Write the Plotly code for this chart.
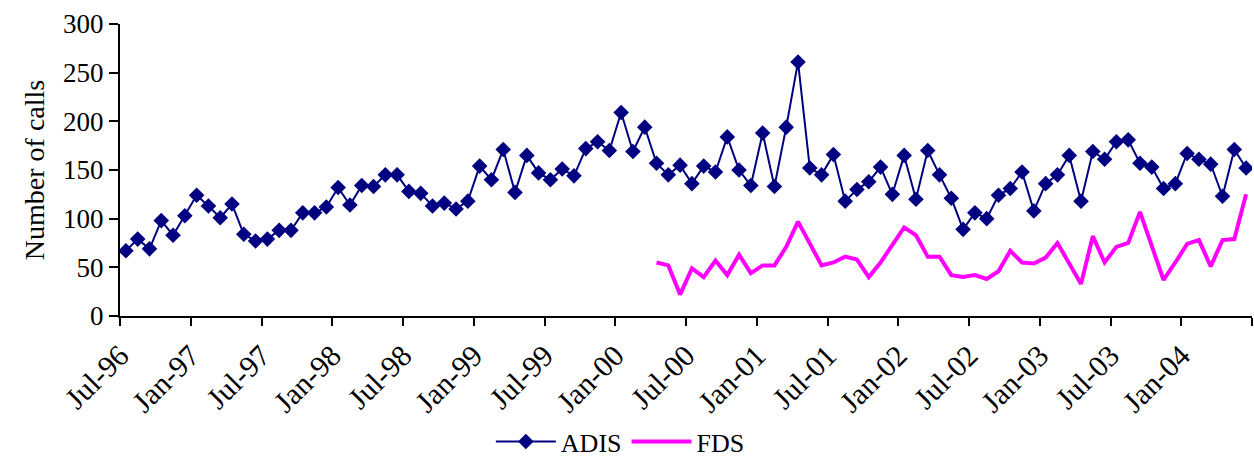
import plotly.graph_objects as go

# Monthly series, Jul-96 .. Jun-04 (96 months)
month_index = list(range(96))
adis = [67, 79, 69, 98, 83, 103, 124, 113, 101, 115, 84, 77,
        79, 88, 88, 106, 106, 112, 132, 114, 134, 133, 145, 145,
        128, 126, 113, 116, 110, 118, 154, 140, 171, 127, 165, 147,
        140, 151, 144, 172, 179, 170, 209, 169, 194, 157, 145, 155,
        136, 154, 148, 184, 150, 134, 188, 133, 194, 261, 152, 145,
        166, 118, 130, 138, 153, 125, 165, 120, 170, 145, 121, 89,
        106, 100, 124, 131, 148, 108, 136, 145, 165, 118, 169, 161,
        179, 181, 157, 153, 131, 136, 167, 161, 156, 123, 171, 152]

# FDS starts in Apr-00 (month index 45)
fds_index = list(range(45, 96))
fds = [55, 52, 22, 49, 40, 57, 42, 63, 44, 52,
       52, 71, 97, 75, 52, 55, 61, 58, 40, 55,
       73, 91, 83, 61, 61, 42, 40, 42, 38, 46,
       67, 55, 54, 60, 75, 54, 33, 82, 55, 71,
       75, 107, 72, 37, 55, 74, 78, 51, 78, 79, 125]

tick_labels = ["Jul-96", "Jan-97", "Jul-97", "Jan-98", "Jul-98", "Jan-99",
               "Jul-99", "Jan-00", "Jul-00", "Jan-01", "Jul-01", "Jan-02",
               "Jul-02", "Jan-03", "Jul-03", "Jan-04", ""]
tick_positions = [-0.5 + 6 * k for k in range(len(tick_labels))]

FONT = "Liberation Serif"

fig = go.Figure()
fig.add_trace(go.Scatter(
    x=month_index, y=adis, name="ADIS", mode="lines+markers",
    line=dict(color="#000080", width=2),
    marker=dict(symbol="diamond", size=12, color="#000080"),
))
fig.add_trace(go.Scatter(
    x=fds_index, y=fds, name="FDS", mode="lines",
    line=dict(color="#FF00FF", width=4),
))

fig.update_layout(
    width=1254, height=459,
    margin=dict(l=120, r=2, t=24, b=143, autoexpand=False),
    plot_bgcolor="white", paper_bgcolor="white",
    font=dict(family=FONT, size=27, color="black"),
    showlegend=True,
    legend=dict(orientation="h", x=0.442, xanchor="center", y=-0.43, yanchor="middle",
                font=dict(family=FONT, size=26), itemwidth=60, tracegroupgap=0),
)
fig.update_xaxes(
    range=[-0.5, 95.5], tickmode="array", tickvals=tick_positions, ticktext=tick_labels,
    tickangle=-45, ticks="outside", ticklen=8, tickwidth=2, tickcolor="black",
    showline=True, linecolor="black", linewidth=2, showgrid=False, zeroline=False,
    tickfont=dict(family=FONT, size=30), automargin=False,
)
fig.update_yaxes(
    range=[0, 300], tickmode="array", tickvals=[0, 50, 100, 150, 200, 250, 300],
    ticks="outside", ticklen=9, tickwidth=2, tickcolor="black",
    showline=True, linecolor="black", linewidth=2, showgrid=False, zeroline=False,
    tickfont=dict(family=FONT, size=27), automargin=False,
    title=dict(text="Number of calls", font=dict(family=FONT, size=28), standoff=10),
)

# remove the browser's default 8px page margin so the figure fills the window exactly
fig.write_html("out.html", config={"displayModeBar": False},
               post_script="document.body.style.margin='0';document.body.style.overflow='hidden';")
